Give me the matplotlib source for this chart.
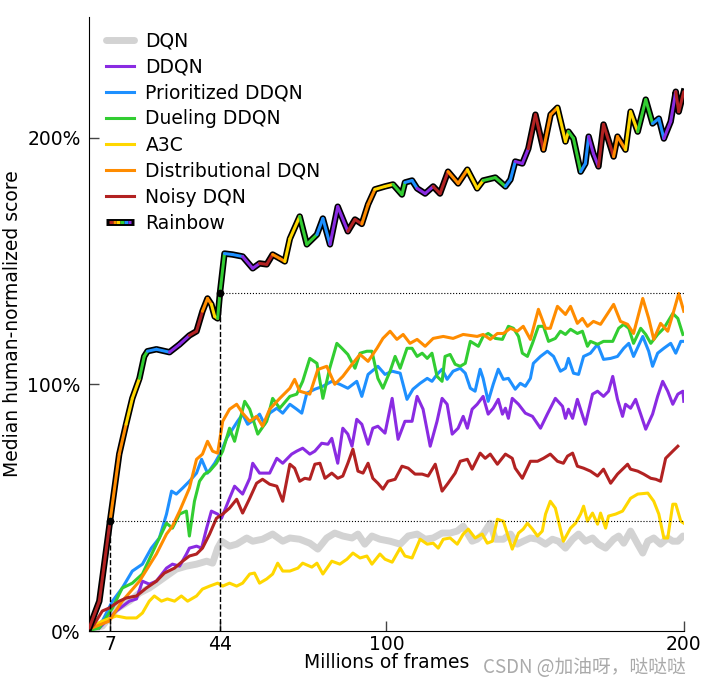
import matplotlib
matplotlib.use("Agg")
import matplotlib.pyplot as plt
from matplotlib.collections import LineCollection
from matplotlib.legend_handler import HandlerBase
from matplotlib.lines import Line2D
import numpy as np

# median human-normalized score (%) vs millions of frames
dqn_x = [0, 4.4, 9.1, 13.5, 16.9, 20.2, 22.6, 26, 29.3, 32.7, 36.1, 39.5, 41.5, 43.2, 44.5, 47.2, 49.6, 53, 55, 58.3,
         61.7, 65.1, 67.5, 70.8, 74.2, 76.9, 79.9, 82.6, 85.3, 88.4, 90.4, 92.7, 95.1, 97.8, 101.2, 104.6, 107.3, 110.3,
         113, 115.7, 118.7, 121.4, 123.8, 125.8, 128.8, 130.5, 132.5, 134.9, 136.6, 139.3, 141.7, 144, 146, 148.4,
         150.8, 153.5, 155.8, 157.8, 160.2, 162.6, 164.6, 166.9, 169.3, 171.3, 173.7, 176.4, 178.1, 179.8, 182.1,
         184.5, 186.2, 187.9, 189.9, 192.2, 194.6, 196.3, 198, 199.7]
dqn_y = [0.8, 2, 8.9, 12.1, 15.4, 17.4, 19.4, 22.3, 25.1, 26.3, 27.1, 28.3, 27.5, 33.6, 36.4, 34.4, 35.2, 37.7, 36.4, 37.2,
         39.3, 36.4, 37.7, 37.2, 35.6, 33.2, 37.7, 39.7, 38.5, 37.7, 39.3, 35.2, 38.5, 37.2, 36.4, 35.2, 38.5, 39.3,
         37.2, 37.7, 39.7, 39.7, 40.5, 42.5, 36.4, 37.2, 39.3, 43.7, 37.2, 37.2, 39.3, 35.2, 36.4, 37.7,
         37.2, 35.2, 37.2, 36.4, 33.6, 37.2, 39.3, 36.4, 37.7, 35.2, 33.6, 37.2, 38.5, 35.6, 40.5,
         35.2, 31.6, 36.4, 37.7, 35.2, 37.7, 36.4, 36.4, 38.5]

ddqn_x = [3.4, 9.1, 13.5, 15.9, 17.9, 20.2, 22.6, 26, 28, 30.4, 32.7, 33.7, 36.1, 37.8, 39.5, 41.1, 43.2, 44.5, 47.2,
          48.9, 51.6, 54, 55, 57.3, 60.7, 63.1, 65.1, 68.1, 69.8, 71.8, 74.2, 75.9, 78.2, 80.3, 81.6, 83.6, 85.3, 87,
          88.4, 90, 91.7, 93.8, 95.4, 97.1, 99.5, 101.9, 103.9, 106.2, 108.6, 110.3, 112.3, 114.7, 117, 118.7, 120.4,
          122.1, 124.1, 125.8, 127.2, 128.8, 130.5, 132.5, 134.2, 135.9, 137.6, 139, 140, 141, 142.3, 144.4, 146.7,
          149.1, 151.8, 154.1, 156.8, 159.2, 160.2, 161.2, 162.6, 164.2, 166.9, 169.3, 171, 173, 174.7, 176.1, 177.7,
          179.4, 180.4, 182.1, 183.8, 185.5, 187.2, 189.5, 191.2, 192.9, 194.6, 196.3, 198, 199.7, 200]
ddqn_y = [1.2, 8.1, 12.1, 13, 20.2, 19, 20.2, 25.5, 27.1, 26.3, 31.2, 33.6, 34.4, 33.6, 41.7, 48.6, 47.4, 45.7, 53.8,
          58.7, 55.5, 61.9, 68, 64, 64, 70, 68, 71.7, 72.9, 74.1, 71.7, 72.9, 76.1, 75.7, 78.1, 68, 82.2, 79.8,
          74.9, 85.8, 83.8, 75.7, 82.2, 83, 80.2, 94.3, 77.7, 85, 85, 95.1, 89.9, 74.9, 85, 94.3, 91.9,
          79.8, 82.2, 87, 82.2, 89.9, 91.9, 95.1, 87.9, 90.3, 93.9, 87.9, 90.3, 86.2, 94.3, 91.9, 88.3,
          87, 82.2, 87.9, 94.3, 91.1, 86.2, 89.9, 86.2, 93.9, 83.8, 96, 97.2, 95.1, 97.2, 103.2, 93.9,
          87, 91.9, 90.3, 93.9, 87.9, 81.8, 87.9, 95.1, 101.2, 97.2, 91.9, 96, 97.2, 93.1]

prio_x = [0, 4.4, 7.8, 11.1, 14.5, 17.9, 20.9, 23.6, 26, 27.7, 29.3, 31.4, 33.7, 36.1, 37.8, 39.8, 42.2, 44.5, 46.2,
          48.2, 49.9, 51.6, 53.3, 55.6, 57.3, 59, 60.7, 63.1, 65.1, 67.5, 69.8, 71.5, 73.2, 75.9, 78.6, 81.6, 84.3,
          87, 90, 91.7, 93.8, 97.1, 99.5, 101.9, 104.6, 106.9, 108.9, 111.3, 113.7, 115.3, 117, 118.7, 120.4, 122.4,
          124.8, 126.5, 128.2, 129.8, 131.5, 132.5, 134.2, 135.9, 137.6, 139.3, 141, 143.3, 145, 146.7, 148.4, 149.4,
          151.8, 154.1, 156.2, 158.5, 160.2, 161.2, 162.9, 164.6, 166.3, 168.6, 171, 173, 175.4, 177.7, 179.8, 181.5,
          183.1, 186.2, 188.2, 189.5, 191.2, 193.3, 195.6, 197.3, 199, 200]
prio_y = [0.5, 4, 12.1, 17.4, 24.3, 27.1, 33.6, 37.7, 47.4, 56.7, 55.5, 57.9, 60.7, 64, 69.6, 64, 68, 72.9, 78.1,
          81.8, 85, 87.9, 83.8, 85.8, 87.9, 83.8, 88.3, 90.3, 88.3, 91.9, 89.9, 88.3, 96.4, 98, 99.2, 101.2, 100,
          98.4, 101.2, 95.1, 104, 107.3, 104, 105.3, 104.5, 93.9, 98, 100.4, 102.4, 101.2, 104, 106.1, 102, 105.3,
          106.5, 104.5, 98.4, 97.2, 106.1, 102.4, 93.1, 100, 106.1, 102, 102.4, 98, 100.4, 99.2, 102.4, 108.5,
          111.3, 113.4, 111.3, 105.3, 106.5, 110.5, 104.5, 104, 111.3, 112.6, 116.2, 110.1, 110.5, 111.3, 114.6, 116.6,
          111.3, 119.4, 113.4, 107.3, 112.6, 114.6, 116.6, 112.6, 117.4, 117.4]

duel_x = [0, 3.4, 7.8, 11.1, 14.5, 17.9, 22.6, 26, 28, 30.4, 32.7, 33.7, 35.4, 37.1, 38.8, 40.5, 42.8, 44.9, 47.2,
          48.9, 50.6, 52.3, 54, 55, 56.7, 59.7, 61.7, 64.1, 67.5, 69.8, 71.8, 74.2, 76.6, 78.6, 80.9, 83.3, 85, 87,
          89.4, 91.1, 93.4, 95.1, 97.1, 98.8, 101.2, 102.9, 104.6, 106.9, 108.6, 110.3, 112, 113.7, 115.3, 117,
          118.7, 119.7, 121.4, 123.1, 124.8, 126.5, 128.2, 130.9, 132.5, 134.2, 136.6, 139, 141, 142.7, 144.4,
          145.7, 147.4, 149.1, 151.1, 152.8, 154.5, 156.8, 158.5, 160.2, 161.9, 164.2, 165.9, 167.6, 168.6, 171, 173,
          176.1, 178.1, 179.8, 181.5, 183.1, 185.5, 187.2, 188.9, 191.2, 193.3, 196.3, 198, 199.7]
duel_y = [0.3, 1.2, 9.3, 17.4, 19.4, 23.1, 35.2, 43.7, 41.7, 47.4, 48.6, 38.5, 52.6, 60.7, 63.6, 64.8, 68, 72.9, 82.2,
          76.9, 85, 93.1, 89.9, 86.2, 79.8, 85, 94.3, 90.3, 95.1, 96, 101.2, 110.5, 108.5, 94.3, 106.5, 116.6, 114.6, 112.1,
          106.5, 112.6, 113.4, 113.4, 102.4, 98.4, 105.3, 111.3, 106.5, 114.6, 114.6, 111.3, 112.6, 110.5, 112.6, 103.2,
          101.2, 111.3, 112.1, 108.1, 107.3, 108.5, 117.4, 115.4, 119.4, 120.6, 118.6, 118.2, 123.5, 122.7, 119.4,
          112.6, 111.3, 116.6, 123.5, 123.5, 117.4, 118.6, 121.5, 120.2, 122.3, 120.6, 121.5, 115.4, 117.4, 116.2, 117.4,
          117.4, 122.7, 124.3, 122.7, 116.6, 122.7, 120.2, 116.6, 120.2, 122.7, 128.7, 126.7, 120.2]

a3c_x = [0, 4.4, 9.1, 12.5, 15.9, 17.9, 20.2, 21.9, 24.3, 26.3, 28.7, 31, 33.1, 36.1, 38.1, 40.5, 43.2, 44.9, 47.2,
         49.6, 51.6, 54, 55.6, 57.3, 59.7, 61.7, 63.4, 65.1, 67.5, 70.2, 71.8, 74.9, 76.6, 78.6, 81.6, 84.3, 86.7,
         88.7, 91.1, 93.4, 95.1, 97.8, 99.5, 101.9, 104.6, 106.2, 108.6, 111.3, 113.7, 115.7, 117.4, 119.1, 121.4,
         123.8, 125.8, 127.5, 129.8, 132.2, 133.9, 135.6, 137.3, 139.3, 142.3, 144.4, 146, 147.4, 149.1, 150.8,
         152.4, 153.5, 155.1, 156.8, 159.5, 161.9, 163.6, 165.3, 166.3, 167.6, 169.3, 171, 172, 173.7, 174.7, 177.1,
         179.4, 182.1, 184.5, 187.9, 189.9, 191.6, 193.3, 194.6, 196.3, 197.3, 199, 200]
a3c_y = [1.2, 4, 6.1, 5.3, 5.3, 7.3, 12.1, 14.2, 12.1, 13, 12.1, 14.2, 12.1, 14.2, 17, 18.2, 19.4, 18.2, 19.4,
         18.2, 19.4, 23.1, 23.5, 19.4, 21.1, 23.1, 27.5, 24.3, 24.3, 25.5, 27.5, 25.9, 27.5, 23.1, 28.3, 27.1, 29.1,
         31.6, 29.6, 30.4, 27.1, 31.2, 29.1, 27.9, 33.6, 30.4, 29.6, 37.2, 35.2, 35.6, 33.6, 37.2, 37.7,
         35.2, 39.3, 41.3, 37.7, 39.3, 35.6, 36.4, 45.3, 44.5, 33.2, 39.7, 41.3, 43.7, 41.3, 38.5,
         40.5, 47.4, 52.6, 49.8, 36.4, 41.7, 43.7, 47.4, 50.6, 44.5, 47.8, 43.3, 47.8, 41.7, 46.6, 47.4,
         48.6, 53.8, 55.5, 55.9, 52.6, 47.4, 37.7, 37.7, 51.4, 51.4, 44.5, 43.7]

dist_x = [0, 6.7, 11.1, 16.9, 22.6, 26, 28, 30.4, 33.7, 36.1, 38.1, 39.8, 41.5, 43.2, 44.9, 47.2, 49.6, 51.6, 54,
          56.3, 58.3, 60.7, 64.1, 67.5, 69.1, 70.8, 74.2, 76.9, 79.9, 82.6, 85.3, 88.4, 91.1, 93.8, 96.8, 98.8, 101.2,
          103.5, 105.6, 107.9, 110.3, 113, 115.7, 119.1, 122.4, 125.8, 130.5, 132.5, 134.9, 137.3, 139.3, 141.7, 144,
          146, 148.4, 151.1, 153.5, 155.1, 157.5, 160.2, 161.9, 164.2, 165.9, 167.6, 169.6, 172, 174.4, 176.4, 178.7,
          181.1, 183.1, 186.2, 188.2, 189.9, 192.2, 194.6, 196.3, 198.3, 200]
dist_y = [0.8, 4, 12.1, 20.2, 31.2, 39.3, 42.5, 48.6, 57.9, 69.6, 71.7, 76.9, 72.9, 72.1, 85, 89.9, 91.9, 88.3, 85,
          87, 83, 89.9, 94.3, 98.4, 102, 97.2, 96, 106, 107.3, 100, 103.2, 108.1, 112.1, 109.3, 114.6, 118.6, 121.5,
          118.2, 120.2, 116.6, 118.2, 115.4, 118.6, 119.4, 118.6, 120.2, 119.4, 120.2, 118.2, 120.6, 120.6, 122.7, 121.5,
          123.5, 118.2, 130.4, 122.7, 122.7, 131.6, 128.3, 131.6, 124.7, 126.7, 123.5, 125.5, 124.3, 128.7, 132.4, 125.5,
          124.3, 120.6, 134.8, 126.7, 118.2, 124.7, 121.5, 128.3, 136.8, 129.6]

noisy_x = [0, 1.7, 4.4, 6.7, 10.1, 12.5, 15.9, 19.2, 22.6, 25.3, 28.7, 31.4, 33.7, 36.1, 38.1, 40.5, 42.8, 44.9, 47.2,
           49.6, 51.6, 54, 56.3, 58.3, 60.7, 63.1, 65.1, 67.5, 69.1, 70.8, 72.5, 74.2, 75.9, 77.6, 79.3, 81.6, 83.6,
           85.3, 87, 88.7, 90.4, 92.1, 93.8, 95.4, 97.1, 98.8, 100.5, 102.9, 105.2, 107.3, 109.6, 112, 114, 116.4,
           118.7, 120.7, 123.1, 124.8, 127.2, 128.8, 131.5, 133.2, 134.9, 137.3, 140, 142.3, 143.3, 145.7, 148.4,
           150.8, 152.8, 155.1, 157.5, 159.5, 160.9, 162.6, 164.2, 166.3, 168.6, 171, 173, 175.4, 177.7, 179.4, 181.1,
           182.1, 184.5, 186.5, 188.9, 190.6, 192.2, 193.9, 196.3, 198]
noisy_y = [0.3, 2.8, 8.1, 9.3, 12.1, 13.4, 14.2, 17.4, 20.2, 23.5, 25.5, 28.3, 30.4, 31.2, 33.6, 39.3, 45.7, 47.4, 49.8,
           53.4, 47.8, 53.8, 59.9, 61.5, 59.5, 58.7, 52.6, 67.6, 66, 60.7, 61.9, 61.5, 67.6, 68, 61.9, 64, 61.9,
           62.8, 68, 73.7, 64.8, 64, 68, 61.9, 59.9, 57.5, 60.7, 61.5, 66.8, 66, 63.6, 63.6, 62.8, 67.6,
           56.7, 59.9, 64, 68.8, 69.6, 65.6, 72.1, 70, 71.7, 67.6, 71.7, 70, 66, 61.9, 68.8,
           68.8, 70, 71.7, 68.8, 68, 70.9, 72.1, 66.8, 66, 64.8, 62.8, 65.6, 59.9, 63.6, 65.6, 67.6,
           65.6, 64.8, 63.6, 61.9, 61.5, 60.7, 70, 72.9, 74.9]

rainbow_x = [0, 3.4, 7, 10.1, 12.4, 14.5, 16.9, 18.5, 19.6, 22.6, 27, 30.4, 33.7, 36.1, 38.1, 39.8, 41.1, 42.2, 43.2,
             44, 45.5, 48.2, 51.6, 55, 57.3, 59.7, 61.7, 64.1, 65.8, 67.5, 70.8, 73.2, 76.6, 78.6, 81, 83.6, 87, 89.4,
             91.7, 93.8, 96.1, 99.5, 102.2, 105.2, 106.2, 108.6, 110.3, 113, 115.7, 118, 120.7, 124.1, 127.2, 130.5,
             132.5, 136.6, 140, 141.7, 143.3, 145.7, 147.7, 150.1, 152.8, 155.2, 157.5, 160.2, 161.2, 162.9, 165.3,
             166.9, 168, 169.6, 171.3, 173, 176.4, 177.7, 180.4, 182.1, 184.5, 187.2, 189.5, 191.6, 193.3, 195.6,
             197.3, 198.3, 200]
rainbow_y = [1.2, 12.1, 44.5, 71.7, 83.8, 94.3, 102.4, 111.3, 113.4, 114.2, 113, 116.2, 119.8, 121.5, 129.6, 134.8,
             132.4, 127.5, 126.7, 137.2, 153, 152.6, 151.8, 147, 149, 148.6, 152.6, 151, 149.8, 159, 168, 156.7, 160.7,
             167.2, 156.7, 172, 162, 166.8, 165, 172.9, 179, 180.2, 181, 176.9, 181.8, 182.6, 179.4, 177.3, 180.2,
             177.3, 186.2, 181.4, 187, 179.4, 182.6, 183.8, 180.2, 183, 190.3, 189.5, 195.5, 209.3, 195.1, 209.3,
             212.1, 198.4, 202.4, 199.6, 186.2, 189.5, 200.4, 193.5, 188.3, 205.3, 192.3, 200.4, 195.1, 210.5, 202.4,
             215.4, 205.7, 207.7, 199.6, 206.5, 218.6, 210.5, 218.6]

# reference markers: (frames, score)
early_mark = (7, 44.5)
late_mark = (44, 137.2)

colors = {
    "DQN": "#d3d3d3",
    "DDQN": "#8a2be2",
    "Prioritized DDQN": "#1e90ff",
    "Dueling DDQN": "#32cd32",
    "A3C": "#ffd700",
    "Distributional DQN": "#ff8c00",
    "Noisy DQN": "#b22222",
}
rainbow_cycle = ["#b22222", "#ff8c00", "#ffd700", "#32cd32", "#1e90ff", "#8a2be2"]


class HandlerRainbow(HandlerBase):
    def create_artists(self, legend, orig_handle, xdescent, ydescent, width, height, fontsize, trans):
        y = height / 2 - ydescent
        arts = [Line2D([-xdescent, width - xdescent], [y, y], color="black", lw=5, solid_capstyle="butt",
                       transform=trans)]
        step = (width - 4) / len(rainbow_cycle)
        for i, c in enumerate(rainbow_cycle):
            x0 = -xdescent + 2 + i * step
            arts.append(Line2D([x0, x0 + step], [y, y], color=c, lw=2.2, solid_capstyle="butt", transform=trans))
        return arts


plt.rcParams["font.family"] = ["DejaVu Sans"]
fig = plt.figure(figsize=(7.08, 6.78), dpi=100)
ax = fig.add_axes([0.126, 0.0693, 0.8398, 0.9061])

ax.plot(dqn_x, dqn_y, color=colors["DQN"], lw=5, label="DQN", solid_capstyle="round")
ax.plot(ddqn_x, ddqn_y, color=colors["DDQN"], lw=2.2, label="DDQN")
ax.plot(prio_x, prio_y, color=colors["Prioritized DDQN"], lw=2.2, label="Prioritized DDQN")
ax.plot(duel_x, duel_y, color=colors["Dueling DDQN"], lw=2.2, label="Dueling DDQN")
ax.plot(a3c_x, a3c_y, color=colors["A3C"], lw=2.2, label="A3C")
ax.plot(dist_x, dist_y, color=colors["Distributional DQN"], lw=2.2, label="Distributional DQN")
ax.plot(noisy_x, noisy_y, color=colors["Noisy DQN"], lw=2.2, label="Noisy DQN")

# rainbow: black outline + cycling colours
ax.plot(rainbow_x, rainbow_y, color="black", lw=4.6, solid_joinstyle="round", zorder=5)
pts = np.column_stack([rainbow_x, rainbow_y])
segs = np.stack([pts[:-1], pts[1:]], axis=1)
seg_colors = [rainbow_cycle[(i // 2) % len(rainbow_cycle)] for i in range(len(segs))]
lc = LineCollection(segs, colors=seg_colors, linewidths=2.2, capstyle="round", zorder=6)
ax.add_collection(lc)

# reference lines
ax.plot([early_mark[0], 200], [early_mark[1], early_mark[1]], ls=":", color="black", lw=0.8)
ax.plot([late_mark[0], 200], [late_mark[1], late_mark[1]], ls=":", color="black", lw=0.8)
ax.plot([early_mark[0], early_mark[0]], [0, early_mark[1]], ls="--", color="black", lw=1)
ax.plot([late_mark[0], late_mark[0]], [0, late_mark[1]], ls="--", color="black", lw=1)
ax.plot([early_mark[0], late_mark[0]], [early_mark[1], late_mark[1]], "o", color="black", ms=4.5, ls="", zorder=7)

ax.set_xlim(0, 200)
ax.set_ylim(0, 249)
ax.set_xticks([7, 44, 100, 200])
ax.set_yticks([0, 100, 200])
ax.set_yticklabels(["0%", "100%", "200%"])
ax.tick_params(direction="in", length=7, width=1, labelsize=13.5, color="#444444")
ax.tick_params(axis="y", pad=6)
ax.tick_params(axis="x", pad=3)
ax.spines["top"].set_visible(False)
ax.spines["right"].set_visible(False)
ax.set_xlabel("Millions of frames", fontsize=13.5, labelpad=-1)
ax.set_ylabel("Median human-normalized score", fontsize=13.5)

handles, labels = ax.get_legend_handles_labels()
rainbow_handle = Line2D([], [], color="black")
handles.append(rainbow_handle)
labels.append("Rainbow")
ax.legend(handles, labels, loc="upper left", bbox_to_anchor=(0.0, 1.004), frameon=False, fontsize=13.5,
          handlelength=1.5, handletextpad=0.6, labelspacing=0.38,
          handler_map={rainbow_handle: HandlerRainbow()})

fig.text(0.682, 0.008, "CSDN @加油呀，哒哒哒", fontsize=13.5, color="#aaaaaa",
         family=["Noto Sans CJK SC", "DejaVu Sans"])

fig.savefig("out.png", dpi=100)
